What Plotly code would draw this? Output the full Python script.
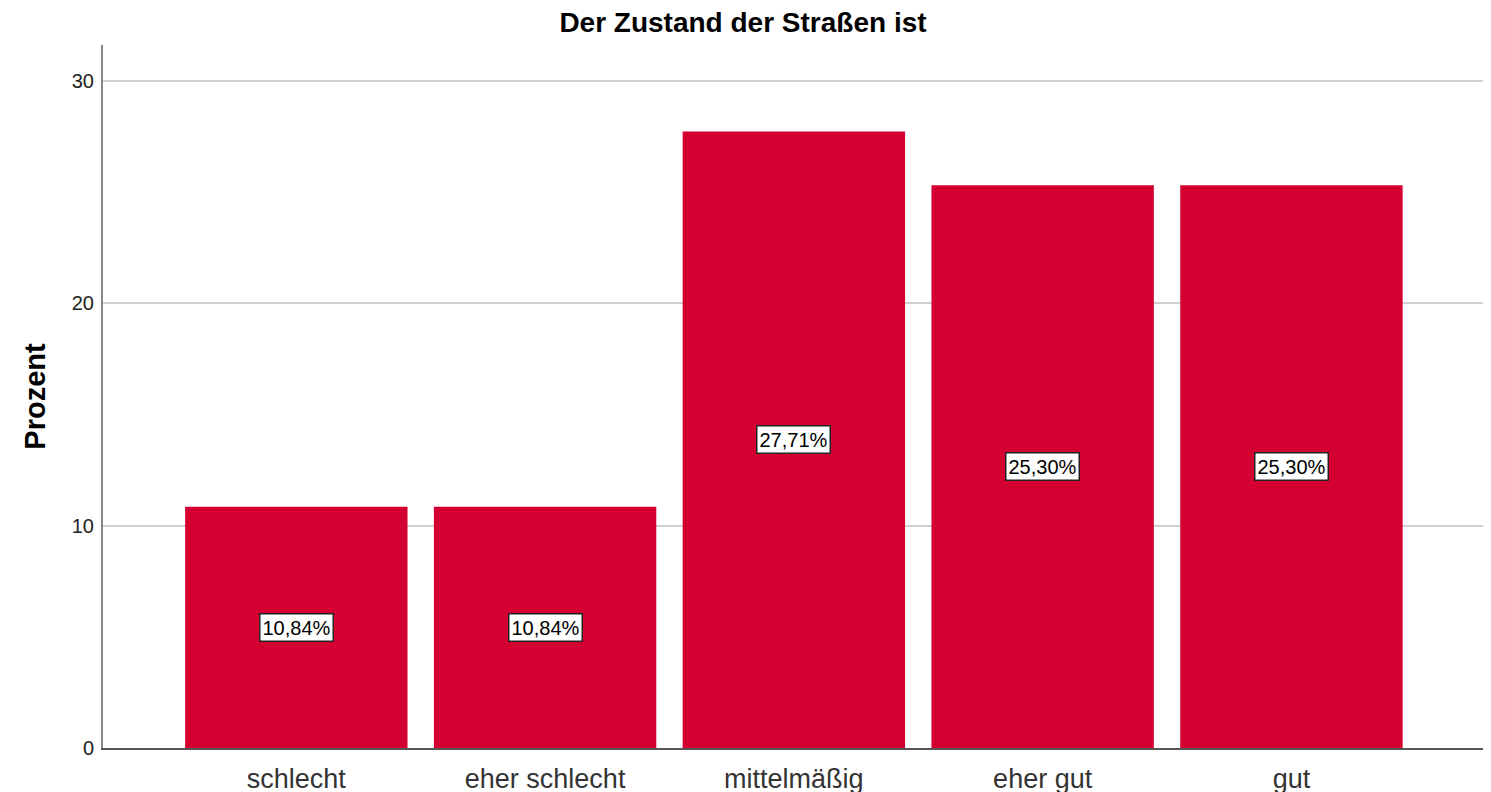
import plotly.graph_objects as go

categories = ["schlecht", "eher schlecht", "mittelmäßig", "eher gut", "gut"]
values = [10.84, 10.84, 27.71, 25.30, 25.30]
labels = ["10,84%", "10,84%", "27,71%", "25,30%", "25,30%"]
y_ticks = [0, 10, 20, 30]

FONT = "Liberation Sans, Arial"

fig = go.Figure()
fig.add_trace(go.Bar(
    x=categories, y=values, width=0.894,
    marker=dict(color="#D50032", line=dict(width=0)),
    hoverinfo="skip",
))

for c, v, t in zip(categories, values, labels):
    fig.add_annotation(
        x=c, y=v / 2, text=t, showarrow=False,
        font=dict(family=FONT, size=20, color="black"),
        bgcolor="white", bordercolor="#222", borderwidth=1.5, borderpad=2,
    )

fig.update_layout(
    width=1483, height=784,
    paper_bgcolor="white", plot_bgcolor="white",
    margin=dict(l=95, r=8, t=37, b=44, autoexpand=False),
    showlegend=False,
    title=dict(text="<b>Der Zustand der Straßen ist</b>", x=0.4956, xanchor="center",
               y=0.982, yanchor="middle", automargin=False,
               font=dict(family=FONT, size=28, color="black")),
    bargap=0.1,
)
fig.update_xaxes(
    range=[-0.777, 4.77], showgrid=False, showline=True, linecolor="#555", linewidth=1.5,
    ticks="", automargin=False,
    tickfont=dict(family=FONT, size=27, color="#333"),
    ticklabelstandoff=6,
)
fig.update_yaxes(
    range=[0, 31.6], tickvals=y_ticks, showgrid=True, gridcolor="#CFCFCF", gridwidth=2,
    showline=True, linecolor="#888", linewidth=2, ticks="", zeroline=False,
    automargin=False,
    tickfont=dict(family=FONT, size=20, color="#222"),
    ticklabelstandoff=3,
    title=dict(text="<b>Prozent</b>", standoff=18,
               font=dict(family=FONT, size=29, color="black")),
)

fig.write_html("out.html")
